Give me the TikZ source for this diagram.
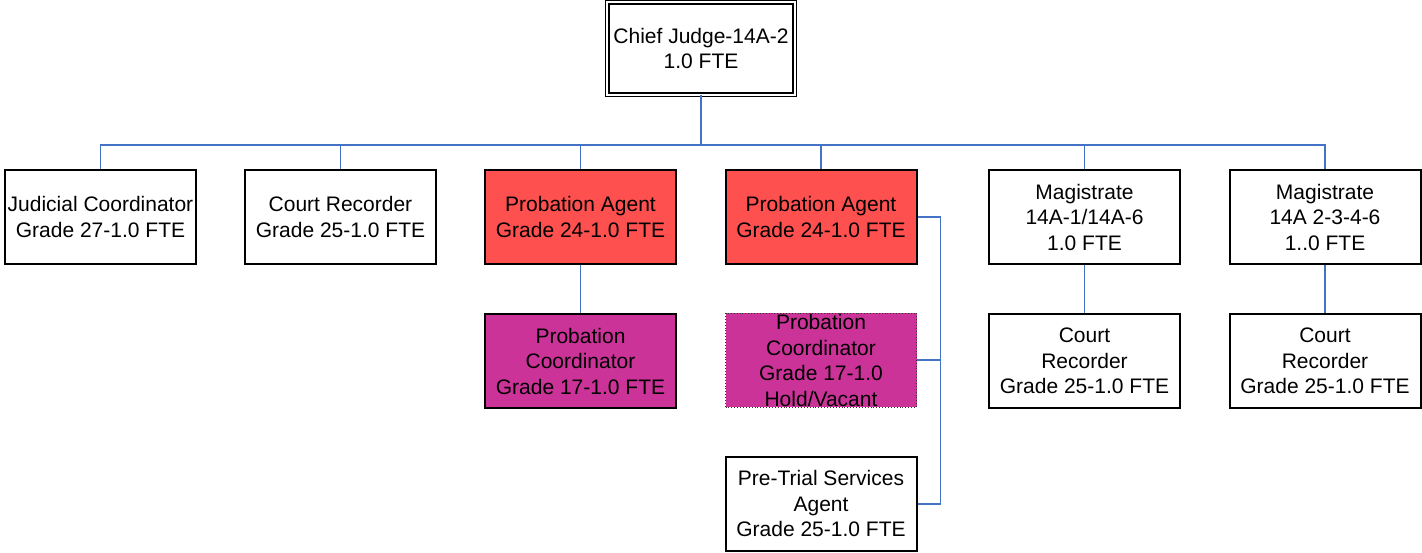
\documentclass[tikz,border=0pt]{standalone}
\usepackage{fontspec}
\setmainfont{Liberation Sans}
\usetikzlibrary{positioning}
\definecolor{linkblue}{RGB}{68,114,196}
\definecolor{agentred}{RGB}{255,80,80}
\definecolor{coordpink}{RGB}{204,51,153}
\tikzset{
    %Define style for boxes
    box/.style={
           rectangle,
           draw=black, line width=2pt,
           minimum width=191pt,
           minimum height=94pt,
           inner xsep=2pt, inner ysep=0.5pt,
           align=center,
           font=\fontsize{21}{25.5}\selectfont},
    redbox/.style={box, fill=agentred},
    pinkbox/.style={box, fill=coordpink},
    vacantbox/.style={box, fill=coordpink, draw=black!80, line width=0.9pt, dotted},
    chiefbox/.style={box, double, line width=1.3pt, double distance=2pt,
           minimum width=187.4pt, minimum height=92.4pt},
    % Define connector style
    link/.style={
           draw=linkblue,
           line width=1.9pt}
}
\begin{document}
\begin{tikzpicture}[x=1pt,y=-1pt,node distance=48pt]
    \useasboundingbox (0,0) rectangle (1422,553);
    \node (chief) [chiefbox] at (701,48.5)
          {Chief Judge-14A-2\\1.0 FTE};
    \coordinate (bus) at (701,145);
    % first row
    \node (judicial) [box] at (100.5,217)
          {Judicial Coordinator\\Grade 27-1.0 FTE};
    \node (recorder) [box] at (340.5,217)
          {Court Recorder\\Grade 25-1.0 FTE};
    \node (agentA) [redbox] at (580.5,217)
          {Probation Agent\\Grade 24-1.0 FTE};
    \node (agentB) [redbox] at (821,217)
          {Probation Agent\\Grade 24-1.0 FTE};
    \node (magA) [box] at (1084.5,217)
          {Magistrate\\14A-1/14A-6\\1.0 FTE};
    \node (magB) [box] at (1325,217)
          {Magistrate\\14A 2-3-4-6\\1..0 FTE};
    % second row
    \node (coordA) [pinkbox] [below=of agentA]
          {Probation\\Coordinator\\Grade 17-1.0 FTE}
          edge [link] (agentA);
    \node (coordB) [vacantbox] [below=of agentB]
          {Probation\\Coordinator\\Grade 17-1.0\\Hold/Vacant};
    \node (recA) [box] [below=of magA]
          {Court\\Recorder\\Grade 25-1.0 FTE}
          edge [link] (magA);
    \node (recB) [box] [below=of magB]
          {Court\\Recorder\\Grade 25-1.0 FTE}
          edge [link] (magB);
    \node (pretrial) [box] [below=of coordB]
          {Pre-Trial Services\\Agent\\Grade 25-1.0 FTE};
    % connectors
    \draw [link] (chief) -- (bus);
    \foreach \n in {judicial,recorder,agentA,agentB,magA,magB}
      \draw [link] (\n.north) |- (bus);
    \draw [link] (agentB.east) -- ++(23,0) coordinate (spine) |- (pretrial.east);
    \draw [link] (coordB.east) -- (coordB.east -| spine);
\end{tikzpicture}
\end{document}
